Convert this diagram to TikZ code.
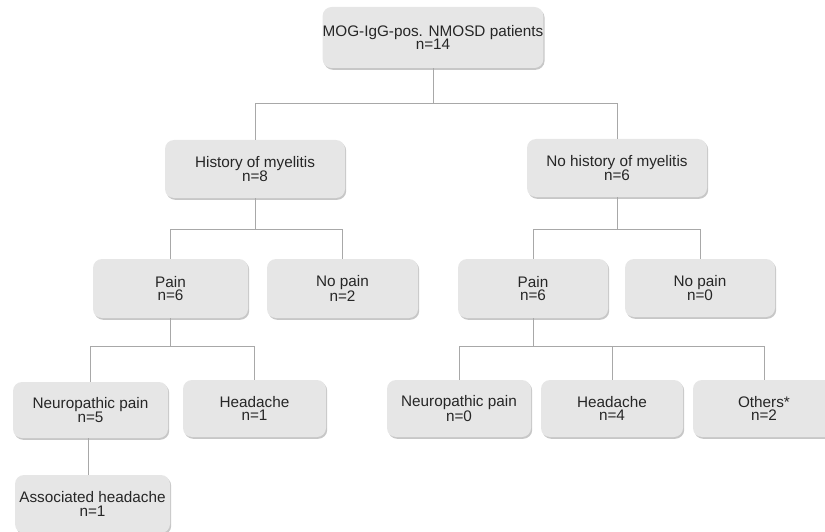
\documentclass[tikz,border=0pt]{standalone}
\usepackage{fontspec}
\setmainfont{Liberation Sans}
\usetikzlibrary{shadows}
\definecolor{boxfill}{HTML}{E6E6E6}
\definecolor{linegray}{HTML}{A8A8A8}
\definecolor{txt}{HTML}{262626}
\begin{document}
\begin{tikzpicture}[x=1pt,y=-1pt,
  box/.style={draw=none, fill=boxfill, rounded corners=9pt, align=center,
    text=txt, inner sep=0pt, font=\fontsize{15.3}{13.8}\selectfont,
    drop shadow={shadow xshift=1.2pt, shadow yshift=-1.8pt, fill=black, opacity=0.22}},
  link/.style={draw=linegray, line width=0.9pt}]
\useasboundingbox (0,0) rectangle (825,532);
\begin{scope}
\clip (0,0) rectangle (825,532);
\node[box, minimum width=220pt, minimum height=61pt] (top) at (433,37.5) {MOG-IgG-pos. NMOSD patients\\n=14};
\node[box, minimum width=180pt, minimum height=58pt] (hist) at (255,169) {History of myelitis\\n=8};
\node[box, minimum width=180pt, minimum height=58pt] (nohist) at (617,168) {No history of myelitis\\n=6};
\node[box, minimum width=155pt, minimum height=59pt] (painL) at (170.5,288.5) {Pain\\n=6};
\node[box, minimum width=151pt, minimum height=59pt] (nopainL) at (342.5,288.5) {No pain\\n=2};
\node[box, minimum width=150pt, minimum height=59pt] (painR) at (533,288.5) {Pain\\n=6};
\node[box, minimum width=150pt, minimum height=58pt] (nopainR) at (700,288) {No pain\\n=0};
\node[box, minimum width=155pt, minimum height=56pt] (neuroL) at (90.5,410) {Neuropathic pain\\n=5};
\node[box, minimum width=143pt, minimum height=57pt] (headL) at (254.5,408.5) {Headache\\n=1};
\node[box, minimum width=144pt, minimum height=57pt] (neuroR) at (459,408.5) {Neuropathic pain\\n=0};
\node[box, minimum width=142pt, minimum height=57pt] (headR) at (612,408.5) {Headache\\n=4};
\node[box, minimum width=142pt, minimum height=57pt] (others) at (764,408.5) {Others*\\n=2};
\node[box, minimum width=155pt, minimum height=58pt] (assoc) at (92.5,504) {Associated headache\\n=1};
\end{scope}
% connectors
\coordinate (j0) at (433,103);
\draw[link] (top.south) -- (j0);
\draw[link] (j0) -| (hist.north);
\draw[link] (j0) -| (nohist.north);
\coordinate (j1) at (255,229);
\draw[link] (hist.south) -- (j1);
\draw[link] (j1) -| (painL.north);
\draw[link] (j1) -| (nopainL.north);
\coordinate (j2) at (617,229);
\draw[link] (nohist.south) -- (j2);
\draw[link] (j2) -| (painR.north);
\draw[link] (j2) -| (nopainR.north);
\coordinate (j3) at (170.5,346);
\draw[link] (painL.south) -- (j3);
\draw[link] (j3) -| (neuroL.north);
\draw[link] (j3) -| (headL.north);
\coordinate (j4) at (533,346);
\draw[link] (painR.south) -- (j4);
\draw[link] (j4) -| (neuroR.north);
\draw[link] (j4) -| (headR.north);
\draw[link] (j4) -| (others.north);
\draw[link] (neuroL.south -| 88,0) -- (assoc.north -| 88,0);
\end{tikzpicture}
\end{document}
